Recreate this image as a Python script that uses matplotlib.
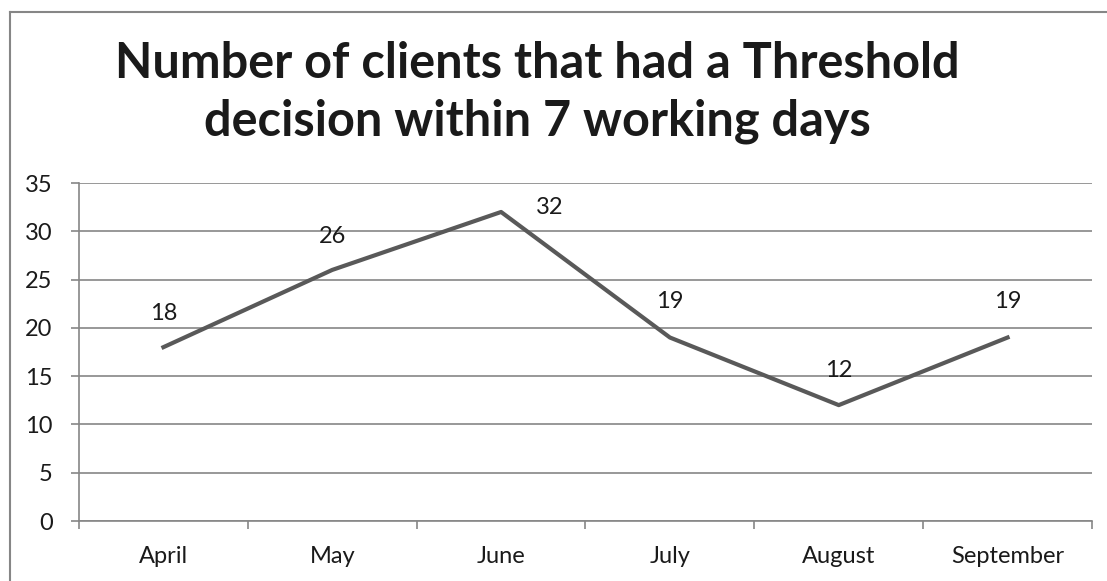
import matplotlib
matplotlib.use("Agg")
import matplotlib.pyplot as plt
from matplotlib.lines import Line2D
import numpy as np

months = ["April", "May", "June", "July", "August", "September"]
clients = [18, 26, 32, 19, 12, 19]
label_offsets = [(0, 24), (0, 24), (35, 3), (0, 26), (0, 25), (0, 26)]
title_lines = ["Number of clients that had a Threshold", "decision within 7 working days"]

plt.rcParams['font.family'] = ['Lato', 'DejaVu Sans']

fig = plt.figure(figsize=(11.07, 5.81), dpi=100)
ax = fig.add_axes([79/1107, 1-521/581, (1092-79)/1107, (521-183)/581])

grid_c = "#868686"
x = np.arange(len(months))
ax.plot(x, clients, color="#595959", linewidth=3.0, solid_joinstyle="round", zorder=3)
for xi, v, off in zip(x, clients, label_offsets):
    ax.annotate(str(v), (xi, v), xytext=off, textcoords="offset points",
                ha="center", va="center", fontsize=17, color="#1a1a1a")

ax.set_xlim(-0.5, len(months) - 0.5)
ax.set_ylim(0, 35)
ax.set_yticks(np.arange(0, 36, 5))
ax.set_xticks(x)
ax.set_xticklabels(months)
ax.set_xticks(np.arange(-0.5, len(months), 1), minor=True)
ax.tick_params(axis="x", which="major", length=0, pad=18, labelsize=17, labelcolor="#1a1a1a")
ax.tick_params(axis="x", which="minor", length=6, width=1.2, color=grid_c, direction="out")
ax.tick_params(axis="y", length=6, width=1.2, color=grid_c, pad=13, labelsize=17, labelcolor="#1a1a1a")
ax.yaxis.grid(True, color=grid_c, linewidth=1.2)
ax.set_axisbelow(True)
for s in ["top", "right"]:
    ax.spines[s].set_visible(False)
for s in ["left", "bottom"]:
    ax.spines[s].set_color(grid_c)
    ax.spines[s].set_linewidth(1.2)

for line, ybase in zip(title_lines, [78, 136]):
    fig.text(537/1107, 1 - ybase/581, line, ha="center", va="baseline", fontsize=35,
             fontweight="bold", color="#1a1a1a")

# chart border (left and top edges visible)
fig.add_artist(Line2D([10/1107, 10/1107], [0, 1 - 12/581], transform=fig.transFigure,
                      color=grid_c, linewidth=1.5))
fig.add_artist(Line2D([10/1107, 1], [1 - 12/581, 1 - 12/581], transform=fig.transFigure,
                      color=grid_c, linewidth=1.5))

fig.savefig("out.png", dpi=100)
